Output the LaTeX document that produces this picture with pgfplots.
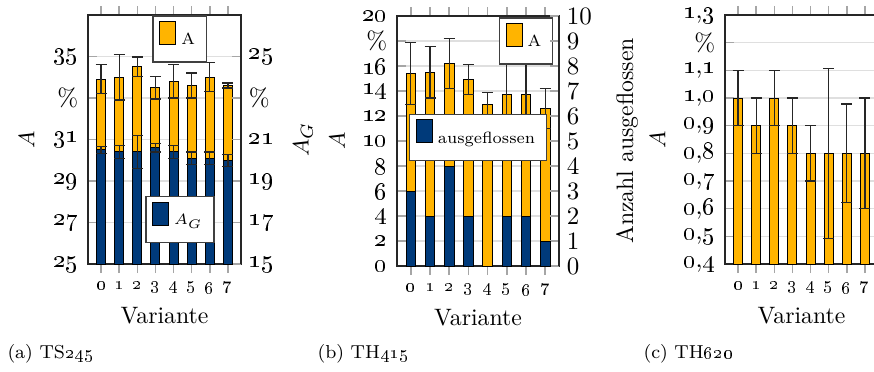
\documentclass[border=0pt]{standalone}
\usepackage{pgfplots}
\pgfplotsset{compat=1.18}
\definecolor{myyellow}{RGB}{255,180,0}
\definecolor{myblue}{RGB}{0,58,122}
\newcommand{\os}[1]{\oldstylenums{#1}}
\newcommand{\dc}[2]{\oldstylenums{#1},\oldstylenums{#2}}
\pgfplotsset{
  common/.style={
    scale only axis,
    xmin=-0.72, xmax=7.72,
    ybar, bar width=0.5,
    xtick={0,...,7},
    xticklabels={\os{0},\os{1},\os{2},\os{3},\os{4},\os{5},\os{6},\os{7}},
    xticklabel style={font=\fontsize{6.6}{7}\selectfont},
    yticklabel style={font=\fontsize{10}{11}\selectfont, xshift=-0.4pt},
    major tick length=3.6pt,
    tick style={gray!70, line width=0.6pt},
    axis line style={black!85, line width=0.6pt},
    legend image code/.code={\draw[##1,draw=black,line width=0.4pt] (0pt,-0.7pt) rectangle (6.4pt,8.5pt);},
    legend style={font=\fontsize{6.5}{7.5}\selectfont, draw=black!75, line width=0.6pt, inner xsep=2.5pt, inner ysep=2pt, nodes={text depth=3pt}},
    legend cell align=left,
    xlabel style={at={(axis description cs:0.5,0)}, anchor=base, yshift=-23.8pt, font=\fontsize{9.5}{11}\selectfont},
  },
  leftaxis/.style={
    common,
    ymajorgrids, grid style={gray!25, line width=0.6pt},
    ytick pos=left, xtick pos=both,
  },
  rightaxis/.style={
    common,
    hide x axis,
    axis y line*=right,
  },
  yellowbar/.style={fill=myyellow, draw=black, line width=0.4pt,
    error bars/.cd, y dir=both, y explicit,
    error bar style={line width=0.5pt, black!85},
    error mark options={rotate=90, mark size=2.2pt, line width=0.5pt, black!85}},
  bluebar/.style={fill=myblue, draw=black, line width=0.4pt,
    error bars/.cd, y dir=both, y explicit,
    error bar style={line width=0.5pt, black!85},
    error mark options={rotate=90, mark size=2.2pt, line width=0.5pt, black!85}},
}
\begin{document}
\begin{tikzpicture}
\useasboundingbox (0,0) rectangle (349.6pt,-148.4pt);

% ---------- (a) TS245 ----------
\begin{axis}[leftaxis, at={(35.2pt,-105.6pt)}, anchor=south west,
  width=61.2pt, height=99.6pt,
  ymin=25, ymax=37, ytick={25,27,29,31,33,35},
  yticklabels={\os{25},\os{27},\os{29},\os{31},\%,\os{35}},
  ylabel={$A$},
  every axis y label/.style={at={(axis description cs:-0.4,0.5)}, rotate=90, anchor=center, font=\fontsize{9.5}{11}\selectfont},
  xlabel={Variante},
  legend style={at={(axis description cs:0.6,1)}, anchor=north}]
\addplot[yellowbar] coordinates {
  (0,33.9) +- (0,0.7)
  (1,34.0) +- (0,1.1)
  (2,34.5) +- (0,0.48)
  (3,33.5) +- (0,0.55)
  (4,33.8) +- (0,0.8)
  (5,33.6) +- (0,0.6)
  (6,34.0) +- (0,0.7)
  (7,33.6) +- (0,0.12)
};
\legend{A}
\end{axis}
\begin{axis}[rightaxis, at={(35.2pt,-105.6pt)}, anchor=south west,
  width=61.2pt, height=99.6pt,
  ymin=15, ymax=27, ytick={15,17,19,21,23,25},
  yticklabels={\os{15},\os{17},\os{19},\os{21},\%,\os{25}},
  ylabel={$A_G$},
  every axis y label/.style={at={(axis description cs:1.405,0.5)}, rotate=90, anchor=center, font=\fontsize{9.5}{11}\selectfont},
  legend style={at={(axis description cs:0.6,0.084)}, anchor=south}]
\addplot[bluebar] coordinates {
  (0,20.5) +- (0,0.16)
  (1,20.4) +- (0,0.3)
  (2,20.4) +- (0,0.8)
  (3,20.6) +- (0,0.2)
  (4,20.4) +- (0,0.3)
  (5,20.1) +- (0,0.3)
  (6,20.1) +- (0,0.3)
  (7,20.0) +- (0,0.29)
};
\legend{$A_G$}
\end{axis}

% ---------- (b) TH415 ----------
\begin{axis}[leftaxis, at={(158.8pt,-106.4pt)}, anchor=south west,
  width=64.8pt, height=100pt,
  ymin=0, ymax=20, ytick={0,2,...,20},
  yticklabels={\os{0},\os{2},\os{4},\os{6},\os{8},\os{10},\os{12},\os{14},\os{16},\%,\os{20}},
  ylabel={$A$},
  every axis y label/.style={at={(axis description cs:-0.37,0.5)}, rotate=90, anchor=center, font=\fontsize{9.5}{11}\selectfont},
  xlabel={Variante},
  legend style={at={(axis description cs:0.796,0.996)}, anchor=north}]
\addplot[yellowbar] coordinates {
  (0,15.4) +- (0,2.5)
  (1,15.5) +- (0,2.05)
  (2,16.2) +- (0,2.0)
  (3,14.9) +- (0,1.2)
  (4,12.9) +- (0,1.0)
  (5,13.7) +- (0,2.65)
  (6,13.7) +- (0,2.6)
  (7,12.6) +- (0,1.6)
};
\legend{A}
\end{axis}
\begin{axis}[rightaxis, at={(158.8pt,-106.4pt)}, anchor=south west,
  width=64.8pt, height=100pt,
  ymin=0, ymax=10, ytick={0,1,...,10},
  yticklabels={0,1,2,3,4,5,6,7,8,9,10},
  ylabel={Anzahl ausgeflossen},
  every axis y label/.style={at={(axis description cs:1.42,0.5)}, rotate=90, anchor=center, font=\fontsize{9.5}{11}\selectfont},
  legend style={at={(axis description cs:0.5,0.514)}, anchor=center}]
\addplot[fill=myblue, draw=black, line width=0.4pt] coordinates {
  (0,3) (1,2) (2,4) (3,2) (4,0) (5,2) (6,2) (7,1)
};
\legend{ausgeflossen}
\end{axis}

% ---------- (c) TH620 ----------
\begin{axis}[leftaxis, at={(290pt,-105.6pt)}, anchor=south west,
  width=61.2pt, height=99.6pt,
  ymin=0.4, ymax=1.3, ytick={0.4,0.5,0.6,0.7,0.8,0.9,1.0,1.1,1.2,1.3},
  yticklabels={{\dc04},{\dc05},{\dc06},{\dc07},{\dc08},{\dc09},{\dc10},{\dc11},\%,{\dc13}},
  ylabel={$A$},
  every axis y label/.style={at={(axis description cs:-0.44,0.5)}, rotate=90, anchor=center, font=\fontsize{9.5}{11}\selectfont},
  xlabel={Variante}]
\addplot[yellowbar] coordinates {
  (0,1.0) +- (0,0.1)
  (1,0.9) +- (0,0.1)
  (2,1.0) +- (0,0.1)
  (3,0.9) +- (0,0.1)
  (4,0.8) +- (0,0.1)
  (5,0.8) +- (0,0.307)
  (6,0.8) +- (0,0.178)
  (7,0.8) +- (0,0.2)
};
\end{axis}

% ---------- captions ----------
\node[anchor=base west, inner sep=0pt, font=\fontsize{7.5}{8}\selectfont] at (2.8pt,-143.2pt) {(a) TS\os{245}};
\node[anchor=base west, inner sep=0pt, font=\fontsize{7.5}{8}\selectfont] at (126.8pt,-143.2pt) {(b) TH\os{415}};
\node[anchor=base west, inner sep=0pt, font=\fontsize{7.5}{8}\selectfont] at (257.2pt,-143.2pt) {(c) TH\os{620}};
\end{tikzpicture}
\end{document}
